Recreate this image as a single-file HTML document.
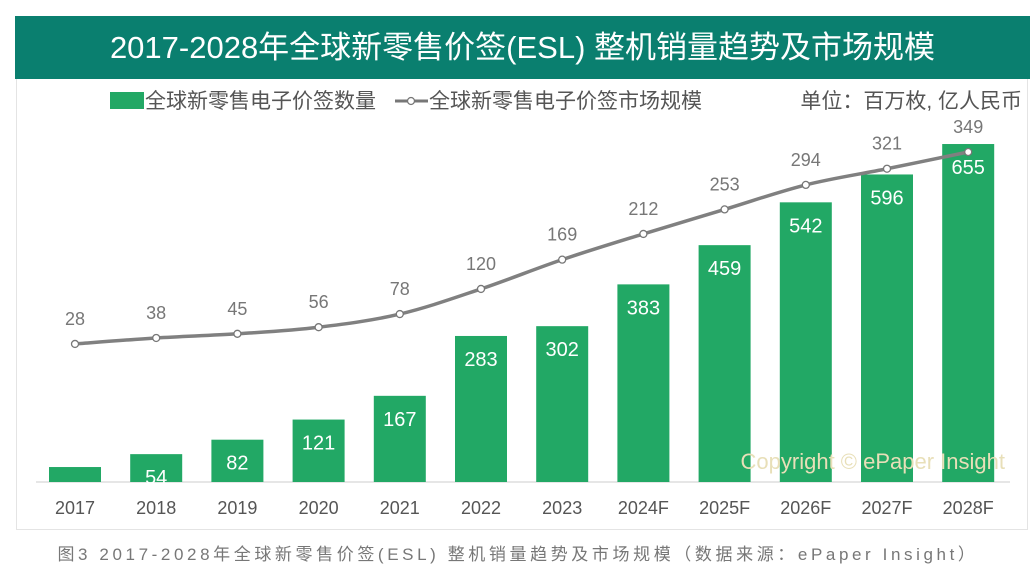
<!DOCTYPE html>
<html><head><meta charset="utf-8"><style>
body{margin:0;width:1036px;height:584px;background:#fff;overflow:hidden;font-family:"Liberation Sans","Noto Sans CJK SC",sans-serif}
#title{position:absolute;left:15px;top:16px;width:1015px;height:63px;background:#0a7f6f;color:#fff;font-size:31px;line-height:63px;text-align:center}
#box{position:absolute;left:16px;top:79px;width:1012px;height:451px;border:1px solid #e4e4e4;border-top:none;box-sizing:border-box}
#cap{position:absolute;left:0;width:1036px;top:540px;text-align:center;font-size:17px;color:#777;letter-spacing:3.6px}
</style></head><body>
<div id="title">2017-2028年全球新零售价签(ESL) 整机销量趋势及市场规模</div>
<div id="box"></div>
<svg id="chart" width="1036" height="584" style="position:absolute;left:0;top:0"></svg>
<div id="cap">图3 2017-2028年全球新零售价签(ESL) 整机销量趋势及市场规模（数据来源：ePaper Insight）</div>
<script>
const categories=["2017","2018","2019","2020","2021","2022","2023","2024F","2025F","2026F","2027F","2028F"];
const units=[29,54,82,121,167,283,302,383,459,542,596,655];
const unitLabels=["","54","82","121","167","283","302","383","459","542","596","655"];
const market=[28,38,45,56,78,120,169,212,253,294,321,349];
const NS="http://www.w3.org/2000/svg";
const svg=document.getElementById('chart');
const x0=75,step=81.2,base=482;
const xs=i=>x0+i*step;
const yb=v=>base-v*0.516;
const yl=v=>360.7-v*0.598;
function mk(t,a,txt){const e=document.createElementNS(NS,t);for(const k in a)e.setAttribute(k,a[k]);if(txt!=null)e.textContent=txt;svg.appendChild(e);return e;}
let e=mk('line',{x1:36,x2:1010,y1:base,y2:base,stroke:'#e6e6e6','stroke-width':2});


categories.forEach((c,i)=>{
 const b=mk('rect',{x:xs(i)-26,y:yb(units[i]),width:52,height:base-yb(units[i]),fill:'#22a865'});
 
 
 const t=mk('text',{x:xs(i),y:Math.min(yb(units[i])+30,base+4),'text-anchor':'middle','font-size':20,fill:'#fff'},unitLabels[i]);
 
 
 const a=mk('text',{x:xs(i),y:514,'text-anchor':'middle','font-size':18,fill:'#555'},c);
 
 
});
const P=market.map((v,i)=>[xs(i),yl(v)]);
let d='M'+P[0][0]+','+P[0][1];
for(let i=0;i<P.length-1;i++){const p0=P[Math.max(0,i-1)],p1=P[i],p2=P[i+1],p3=P[Math.min(P.length-1,i+2)];
 d+=` C${p1[0]+(p2[0]-p0[0])/6},${p1[1]+(p2[1]-p0[1])/6} ${p2[0]-(p3[0]-p1[0])/6},${p2[1]-(p3[1]-p1[1])/6} ${p2[0]},${p2[1]}`;}
e=mk('path',{d:d,fill:'none',stroke:'#808080','stroke-width':3.5});


market.forEach((v,i)=>{
 const c=mk('circle',{cx:xs(i),cy:yl(v),r:3.5,fill:'#fff',stroke:'#777','stroke-width':1.3});
 
 
 const t=mk('text',{x:xs(i),y:yl(v)-19,'text-anchor':'middle','font-size':18,fill:'#777'},String(v));
 
 
});
e=mk('rect',{x:110,y:92,width:34,height:17,fill:'#22a865'});


e=mk('text',{x:145,y:108,'font-size':21,fill:'#555'},'全球新零售电子价签数量');


e=mk('line',{x1:395,x2:428,y1:101,y2:101,stroke:'#777','stroke-width':3});


mk('circle',{cx:411,cy:101,r:3.5,fill:'#fff',stroke:'#777','stroke-width':1.3});
e=mk('text',{x:429,y:108,'font-size':21,fill:'#555'},'全球新零售电子价签市场规模');


e=mk('text',{x:1022,y:108,'text-anchor':'end','font-size':21,fill:'#555'},'单位：百万枚, 亿人民币');


e=mk('text',{x:1005,y:469,'text-anchor':'end','font-size':22,fill:'#e8dfb8'},'Copyright © ePaper Insight');


</script>
</body></html>
